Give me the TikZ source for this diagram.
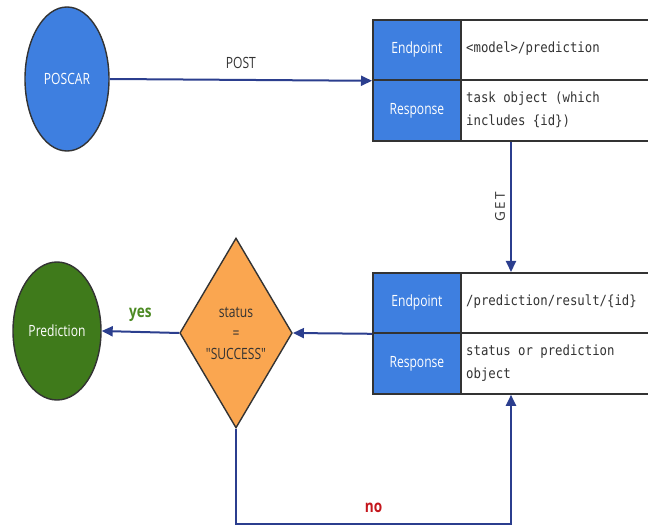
\documentclass[tikz,border=0pt]{standalone}
\usepackage{fontspec}
\setmainfont{Open Sans}
\newfontfamily\cond{Open Sans}[FakeStretch=0.78]
\newfontfamily\condb{Open Sans}[FakeStretch=0.8,UprightFont=* Bold]
\newfontfamily\monof{DejaVu Sans Mono}[FakeStretch=0.88]
\usetikzlibrary{shapes.geometric,arrows.meta,calc}
\definecolor{cblue}{HTML}{3E7FE0}
\definecolor{cline}{HTML}{2B3E8E}
\definecolor{cgreen}{HTML}{3F7A1B}
\definecolor{cyes}{HTML}{4C8A22}
\definecolor{corange}{HTML}{FAA650}
\definecolor{cred}{HTML}{C4161C}
\definecolor{cgray}{HTML}{333333}
\tikzset{
  flow/.style={draw=cline, line width=2pt, -{Triangle[length=11pt,width=10pt]}},
  bluecell/.style={draw=cgray, line width=1.8pt, fill=cblue, text=white, inner sep=0pt,
     font=\cond\fontsize{15.5}{17}\selectfont, anchor=north west, minimum width=88pt},
  whitecell/.style={draw=cgray, line width=1.8pt, fill=white, inner sep=0pt,
     anchor=north west, minimum width=200pt},
  celltext/.style={anchor=west, align=left, inner sep=0pt, text=cgray,
     font=\monof\fontsize{14}{23}\selectfont},
  blob/.style={ellipse, draw=cgray, line width=1.4pt, text=white, inner sep=0pt,
     font=\cond\fontsize{15.5}{17}\selectfont},
  lbl/.style={text=cgray, inner sep=0pt, font=\cond\fontsize{15.5}{17}\selectfont},
}
\begin{document}
\begin{tikzpicture}[x=1pt,y=-1pt]
\useasboundingbox (0,0) rectangle (648,529);
\clip (0,0) rectangle (648,529);
% nodes
\node[blob, fill=cblue, minimum width=84pt, minimum height=144pt] (poscar) at (67,79) {POSCAR};
\node[blob, fill=cgreen, minimum width=88pt, minimum height=138pt] (pred) at (57,331) {Prediction};
% table 1
\node[whitecell, minimum height=60pt] (et1) at (460,19) {};
\node[whitecell, minimum height=61pt] (rt1) at (460,79) {};
\node[bluecell, minimum height=60pt] (ep1) at (372,19) {Endpoint};
\node[bluecell, minimum height=61pt] (rs1) at (372,79) {Response};
\node[celltext] (et1t) at (466,49) {<model>/prediction};
\node[celltext] (rt1t) at (466,110) {task object (which\\includes \{id\})};
% table 2
\node[whitecell, minimum height=60pt] (et2) at (460,272) {};
\node[whitecell, minimum height=61pt] (rt2) at (460,332) {};
\node[bluecell, minimum height=60pt] (ep2) at (372,272) {Endpoint};
\node[bluecell, minimum height=61pt] (rs2) at (372,332) {Response};
\node[celltext] (et2t) at (466,302) {/prediction/result/\{id\}};
\node[celltext] (rt2t) at (466,363) {status or prediction\\object};
% decision
\node[diamond, draw=cgray, line width=1.4pt, fill=corange, inner sep=0pt,
  minimum width=110pt, minimum height=190pt, align=center, text=cgray,
  font=\cond\fontsize{15.5}{21}\selectfont] (dec) at (236,333) {status\\=\\"SUCCESS"};
% connectors
\draw[flow] (poscar.east) -- (ep1.south west) node[lbl, midway, above=10pt] (post) {POST};
\coordinate (g1) at ($(rs1.south west)+(139,0)$);
\coordinate (g2) at ($(ep2.north west)+(139,0)$);
\draw[flow] (g1) -- (g2) node[lbl, midway, rotate=90, anchor=south, yshift=5pt,
   font=\fontsize{13.5}{15}\selectfont] (get) {G\,E\,T};
\draw[flow] (ep2.south west) -- (dec.east);
\draw[flow] (dec.west) -- (pred.east) node[midway, above=9pt, text=cyes, inner sep=0pt,
   font=\condb\fontsize{17}{19}\selectfont] (yes) {yes};
\coordinate (n1) at ($(rs2.south west)+(139,0)$);
\coordinate (nb) at ($(dec.south)+(0,95)$);
\draw[flow] (dec.south) -- (nb) -| (n1) node[pos=0.25, above=10pt, text=cred, inner sep=0pt,
   font=\condb\fontsize{17}{19}\selectfont] (no) {no};
\end{tikzpicture}
\end{document}
